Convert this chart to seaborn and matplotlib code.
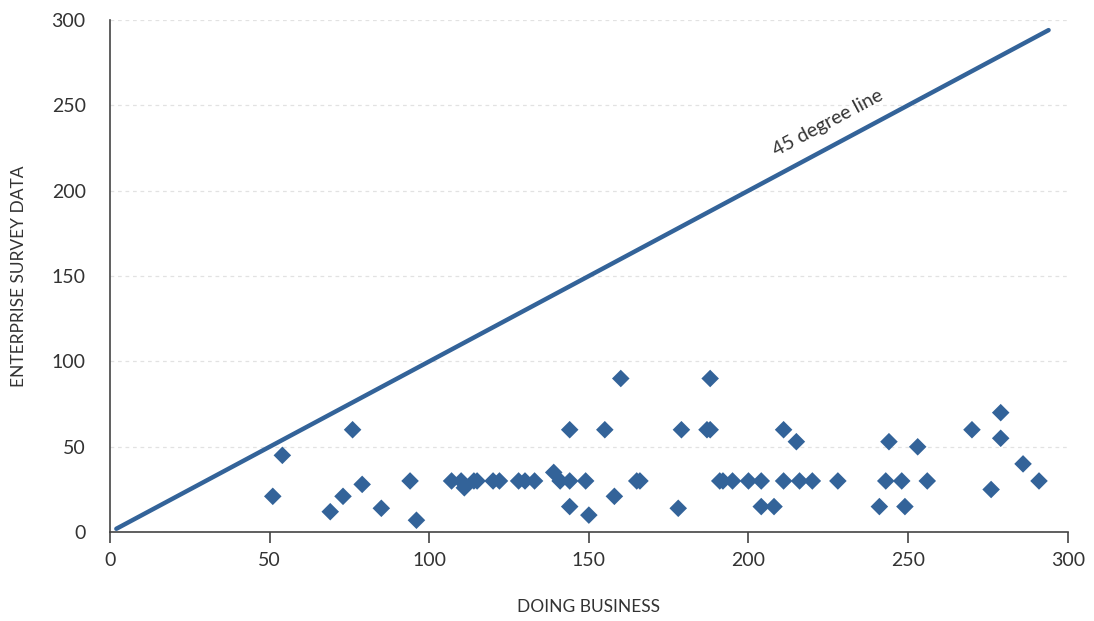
import pandas as pd
import matplotlib.pyplot as plt
import seaborn as sns

# Doing Business vs Enterprise Survey (days)
doing_business = [51, 54, 69, 73, 76, 79, 85, 94, 96, 107, 110, 111, 114, 115,
                  120, 122, 128, 130, 133, 139, 141, 144, 149, 144, 150, 144,
                  155, 160, 158, 165, 166, 178, 179, 187, 188, 188, 191, 192,
                  195, 200, 204, 204, 208, 211, 211, 215, 216, 220, 228, 241,
                  244, 243, 248, 249, 253, 256, 270, 279, 279, 276, 286, 291]
enterprise_survey = [21, 45, 12, 21, 60, 28, 14, 30, 7, 30, 30, 26, 30, 30,
                     30, 30, 30, 30, 30, 35, 30, 30, 30, 15, 10, 60,
                     60, 90, 21, 30, 30, 14, 60, 60, 60, 90, 30, 30,
                     30, 30, 30, 15, 15, 30, 60, 53, 30, 30, 30, 15,
                     53, 30, 30, 15, 50, 30, 60, 70, 55, 25, 40, 30]
line_x = [2, 294]
line_y = [2, 294]
x_ticks = [0, 50, 100, 150, 200, 250, 300]
y_ticks = [0, 50, 100, 150, 200, 250, 300]

df = pd.DataFrame({"Doing Business": doing_business,
                   "Enterprise Survey": enterprise_survey})
line_df = pd.DataFrame({"x": line_x, "y": line_y})

sns.set_style("white")
plt.rcParams["font.family"] = ["Lato", "DejaVu Sans"]

blue = "#336399"
text_col = "#333333"

fig = plt.figure(figsize=(10.94, 6.21), dpi=100)
ax = fig.add_axes([0.1005, 0.143, 0.8755, 0.825])

sns.lineplot(data=line_df, x="x", y="y", color=blue, linewidth=3.2, ax=ax)
sns.scatterplot(data=df, x="Doing Business", y="Enterprise Survey", marker="D",
                s=80, color=blue, edgecolor="none", ax=ax, zorder=3)

ax.text(225, 240, "45 degree line", rotation=28, ha="center", va="center",
        fontsize=14, color=text_col)

ax.set_xlim(0, 300)
ax.set_ylim(0, 300)
ax.set_xticks(x_ticks)
ax.set_yticks(y_ticks)
ax.yaxis.grid(True, linestyle=(0, (3, 3)), color="#e2e2e2", linewidth=0.9)
ax.set_axisbelow(True)

for s in ["top", "right"]:
    ax.spines[s].set_visible(False)
for s in ["left", "bottom"]:
    ax.spines[s].set_color("#444444")
    ax.spines[s].set_linewidth(1.2)

ax.tick_params(axis="x", bottom=True, direction="out", length=8, width=1.2,
               color="#444444", labelsize=14, labelcolor=text_col, pad=6)
ax.tick_params(axis="y", left=False, labelsize=14, labelcolor=text_col, pad=14)

ax.set_xlabel("DOING BUSINESS", fontsize=12.5, color=text_col, labelpad=22)
ax.set_ylabel("ENTERPRISE SURVEY DATA", fontsize=12.5, color=text_col, labelpad=18)

plt.savefig("out.png", dpi=100)
